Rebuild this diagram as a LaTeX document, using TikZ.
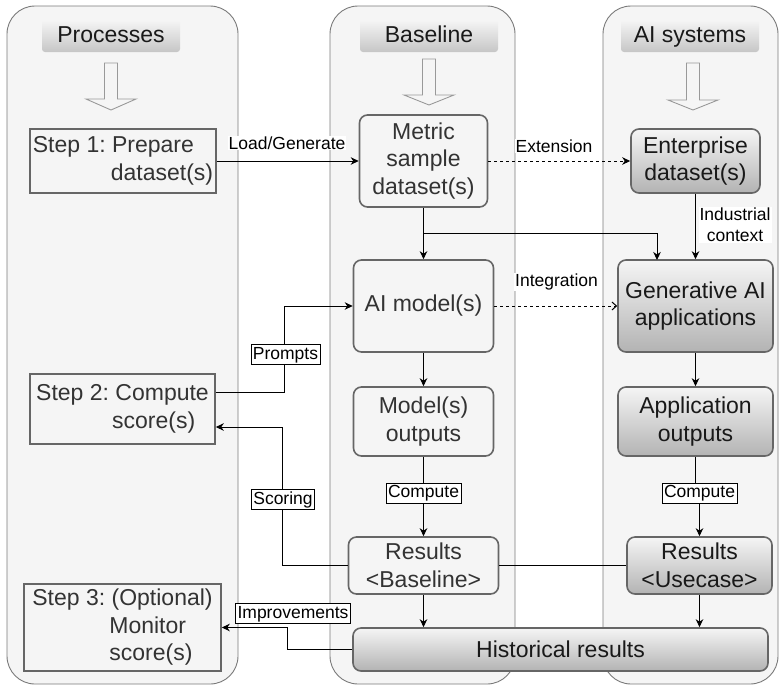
\documentclass[tikz,border=0pt]{standalone}
\usepackage{fontspec}
\setmainfont{Liberation Sans}
\usetikzlibrary{arrows.meta,calc}
\frenchspacing

\definecolor{lanefill}{HTML}{F5F5F5}
\definecolor{laneline}{HTML}{7A7A7A}
\definecolor{boxline}{HTML}{666666}
\definecolor{boxtext}{HTML}{333333}
\definecolor{gradtop}{HTML}{F5F5F5}
\definecolor{gradbot}{HTML}{B3B3B3}
\definecolor{headbot}{HTML}{C6C6C6}
\definecolor{blockline}{HTML}{999999}

\newcommand{\bodyfs}{\fontsize{23}{27.5}\selectfont}
\newcommand{\labelfs}{\fontsize{17.5}{21}\selectfont}

% hollow block arrow below each lane header: centre x, top, head base, tip
\newcommand{\downblock}[4]{%
  \draw[blockline, line width=0.9pt, line join=miter]
    (#1-6.5,#2) -- (#1+6.5,#2) -- (#1+6.5,#3) -- (#1+25,#3) -- (#1,#4)
    -- (#1-25,#3) -- (#1-6.5,#3) -- cycle;}

\tikzset{
  lane/.style={draw=laneline, line width=0.9pt, fill=lanefill, rounded corners=28pt},
  header/.style={rounded corners=3pt, top color=gradtop, bottom color=headbot,
    minimum width=138pt, minimum height=32pt, inner sep=0pt, font=\bodyfs, text=black!90,
    text height=16.5pt, text depth=4.5pt},
  lightbox/.style={draw=boxline, line width=1.6pt, fill=lanefill, rounded corners=8pt,
    align=center, inner sep=0pt, font=\bodyfs, text=boxtext},
  stepbox/.style={draw=boxline, line width=1.6pt, fill=lanefill,
    align=left, inner sep=0pt, font=\bodyfs, text=boxtext},
  gradbox/.style={draw=boxline, line width=1.6pt, top color=gradtop, bottom color=gradbot,
    rounded corners=8pt, align=center, inner sep=0pt, font=\bodyfs, text=black!90},
  flow/.style={line width=1pt, black, -{Stealth[length=8pt,width=7.5pt,inset=2.5pt]}},
  dflow/.style={flow, dash pattern=on 3pt off 3pt},
  oflow/.style={line width=1pt, black, dash pattern=on 3pt off 3pt,
    -{Straight Barb[length=4.5pt,width=8pt,line width=1pt]}},
  plain/.style={line width=1pt, black},
  lbl/.style={font=\labelfs, fill=white, inner sep=1pt, text=black, align=center},
  blbl/.style={lbl, draw=black, line width=0.8pt, inner xsep=2pt, inner ysep=1.5pt,
    text height=13pt, text depth=4pt},
}

\begin{document}
\begin{tikzpicture}[x=1pt, y=-1pt]
\useasboundingbox (0,0) rectangle (781,686);

% swimlanes
\path[lane] (7,6) rectangle (238,684);
\path[lane] (330,6) rectangle (515,684);
\path[lane] (603,6) rectangle (778,684);

% lane headers
\node[header] (hproc) at (111,36) {Processes};
\node[header] (hbase) at (429,36) {Baseline};
\node[header] (hai)   at (690,36) {AI systems};

\downblock{111}{63}{99}{110}
\downblock{429}{59}{95}{105}
\downblock{693}{63}{100}{110}

% process steps
\node[stepbox, minimum width=186pt, minimum height=64pt] (s1) at (123,161)
  {Step 1: Prepare\\\hspace*{78pt}dataset(s)};
\node[stepbox, minimum width=185pt, minimum height=70pt] (s2) at (122.5,409)
  {Step 2: Compute\\\hspace*{76pt}score(s)};
\node[stepbox, minimum width=197pt, minimum height=87pt] (s3) at (122.5,627.5)
  {Step 3: (Optional)\\\hspace*{77pt}Monitor\\\hspace*{77pt}score(s)};

% baseline column
\node[lightbox, minimum width=128pt, minimum height=92pt] (metric) at (423.5,161)
  {Metric\\sample\\dataset(s)};
\node[lightbox, minimum width=140pt, minimum height=92pt] (ai) at (423.5,306)
  {AI model(s)};
\node[lightbox, minimum width=140pt, minimum height=69pt] (mo) at (423.5,421.5)
  {Model(s)\\outputs};
\node[lightbox, minimum width=150pt, minimum height=57pt] (rb) at (423.5,565.5)
  {Results\\\textless Baseline\textgreater};

% AI systems column
\node[gradbox, minimum width=129pt, minimum height=64pt] (ent) at (695.5,161)
  {Enterprise\\dataset(s)};
\node[gradbox, minimum width=155pt, minimum height=92pt] (gen) at (695.5,306)
  {Generative AI\\applications};
\node[gradbox, minimum width=155pt, minimum height=69pt] (ao) at (695.5,421.5)
  {Application\\outputs};
\node[gradbox, minimum width=145pt, minimum height=57pt] (ru) at (699.5,565.5)
  {Results\\\textless Usecase\textgreater};

\node[gradbox, minimum width=415pt, minimum height=43pt] (hist) at (560.5,649.5)
  {Historical results};

% connectors
\draw[flow] (s1.east) -- (metric.west);
\node[lbl] (lload) at (287,143) {Load/Generate};

\draw[dflow] (metric.east) -- (ent.west);
\node[lbl] (lext) at (554,146) {Extension};

\coordinate (br) at (423.5,233);
\coordinate (gtop) at (657,260);
\draw[flow] (metric.south) -- (ai.north);
\draw[flow] (br) -| (gtop);

\draw[flow] (ent.south) -- (gen.north);
\node[lbl] (lind) at (735,225) {Industrial\\context};

\draw[oflow] (ai.east) -- (gen.west);
\node[lbl] (lint) at (556.5,282) {Integration};

\draw[flow] (ai.south) -- (mo.north);
\draw[flow] (gen.south) -- (ao.north);

\draw[flow] (mo.south) -- (rb.north);
\node[blbl] (lc1) at (423.5,493) {Compute};

\coordinate (c2p) at (699.5,493);
\draw[flow] (ao.south) |- (c2p) -- (ru.north);
\node[blbl] (lc2) at (c2p) {Compute};

\coordinate (pr1) at (284,392);
\coordinate (pr2) at (284,306);
\draw[flow] (s2.east |- pr1) -- (pr1) -- (pr2) -- (ai.west);
\node[blbl] (lpr) at (285.5,354.5) {Prompts};

\coordinate (sc1) at (282,565.5);
\coordinate (sc2) at (282,427);
\draw[flow] (rb.west) -- (sc1) -- (sc2) -- (s2.east |- sc2);
\node[blbl] (lsc) at (283,499.5) {Scoring};

\draw[plain] (rb.east) -- (ru.west);

\draw[flow] (rb.south) -- (rb.south |- hist.north);
\draw[flow] (ru.south) -- (ru.south |- hist.north);

\coordinate (im1) at (287,649.5);
\coordinate (im2) at (287,627.5);
\draw[flow] (hist.west) -- (im1) -- (im2) -- (s3.east);
\node[blbl] (limp) at (293,613.5) {Improvements};
\end{tikzpicture}
\end{document}
